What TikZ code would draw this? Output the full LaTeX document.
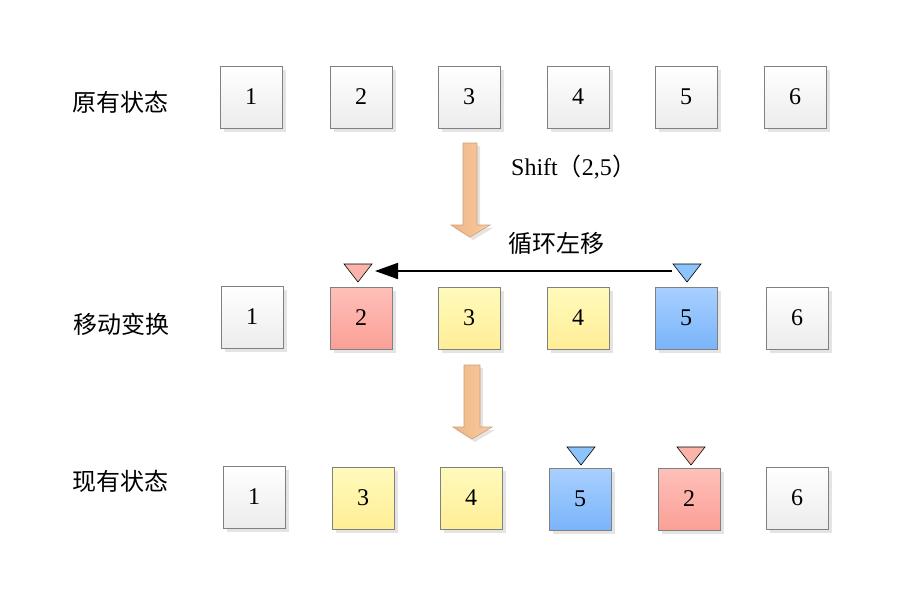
\documentclass[tikz,border=0pt]{standalone}
\usepackage{fontspec}
\setmainfont{Liberation Serif}
\newfontfamily\cjk{Noto Sans CJK SC}
\usetikzlibrary{shadows,arrows.meta}
\definecolor{boxline}{RGB}{128,128,128}
\definecolor{whitebot}{RGB}{236,236,236}
\definecolor{redtop}{RGB}{255,192,186}
\definecolor{redbot}{RGB}{250,160,150}
\definecolor{yeltop}{RGB}{255,250,188}
\definecolor{yelbot}{RGB}{255,238,150}
\definecolor{bluetop}{RGB}{168,208,255}
\definecolor{bluebot}{RGB}{122,180,250}
\definecolor{redtri}{RGB}{250,180,170}
\definecolor{bluetri}{RGB}{140,195,250}
\definecolor{arrL}{RGB}{238,182,132}
\definecolor{arrR}{RGB}{250,202,162}
\definecolor{arrline}{RGB}{205,160,120}
\definecolor{shadowc}{RGB}{228,228,228}
\tikzset{
  cell/.style={minimum width=62pt, minimum height=62pt, inner sep=0pt,
    draw=boxline, line width=0.8pt, font=\fontsize{24}{26}\selectfont,
    drop shadow={shadow xshift=4pt, shadow yshift=-4pt, fill=shadowc, opacity=1}},
  plaincell/.style={cell, top color=white, bottom color=whitebot},
  redcell/.style={cell, top color=redtop, bottom color=redbot},
  yelcell/.style={cell, top color=yeltop, bottom color=yelbot},
  bluecell/.style={cell, top color=bluetop, bottom color=bluebot},
  rowlabel/.style={font=\cjk\fontsize{24}{26}\selectfont},
  tri/.style={draw=black, line width=0.6pt},
  blockarrow/.style={draw=arrline, line width=0.6pt, left color=arrL, right color=arrR},
  blockshadow/.style={fill=shadowc},
}
\begin{document}
\begin{tikzpicture}[x=1pt,y=-1pt]
\useasboundingbox (0,0) rectangle (899,602);
% row labels
\node[rowlabel] (l1) at (120,102) {原有状态};
\node[rowlabel] (l2) at (121,324) {移动变换};
\node[rowlabel] (l3) at (120,481) {现有状态};
% row 1
\node[plaincell] (a1) at (251,97) {1};
\node[plaincell] (a2) at (361,97) {2};
\node[plaincell] (a3) at (469,97) {3};
\node[plaincell] (a4) at (578,97) {4};
\node[plaincell] (a5) at (686,97) {5};
\node[plaincell] (a6) at (795,97) {6};
% row 2
\node[plaincell] (b1) at (252,317) {1};
\node[redcell]   (b2) at (361,318) {2};
\node[yelcell]   (b3) at (469,318) {3};
\node[yelcell]   (b4) at (578,318) {4};
\node[bluecell]  (b5) at (686,318) {5};
\node[plaincell] (b6) at (797,318) {6};
% row 3
\node[plaincell] (c1) at (254,497) {1};
\node[yelcell]   (c2) at (363,498) {3};
\node[yelcell]   (c3) at (471,498) {4};
\node[bluecell]  (c4) at (580,499) {5};
\node[redcell]   (c5) at (689,499) {2};
\node[plaincell] (c6) at (797,498) {6};
% block arrows
\begin{scope}[shift={(3,3)}]
\path[blockshadow] (463,143) -- (477,143) -- (477,225) -- (490,225) -- (470,237) -- (451,225) -- (463,225) -- cycle;
\path[blockshadow] (464,365) -- (480,365) -- (480,427) -- (492,427) -- (472,439) -- (453,427) -- (464,427) -- cycle;
\end{scope}
\path[blockarrow] (463,143) -- (477,143) -- (477,225) -- (490,225) -- (470,237) -- (451,225) -- (463,225) -- cycle;
\path[blockarrow] (464,365) -- (480,365) -- (480,427) -- (492,427) -- (472,439) -- (453,427) -- (464,427) -- cycle;
% labels
\node[font=\fontsize{24}{26}\selectfont, anchor=west, inner sep=0pt] (shift) at (511,167) {Shift{\cjk（}2,5{\cjk\kern1pt）}};
\node[font=\cjk\fontsize{24}{26}\selectfont] (rot) at (556,243) {循环左移};
% triangles row 2
\path[tri, fill=redtri] (344,264) -- (372,264) -- (358,282) -- cycle;
\path[tri, fill=bluetri] (673,264) -- (701,264) -- (687,282) -- cycle;
\coordinate (tR) at (375,271);
\coordinate (tB) at (672,271);
\draw[line width=1.8pt, -{Triangle[length=23pt,width=16pt]}] (tB) -- (tR);
% triangles row 3
\path[tri, fill=bluetri] (567,447) -- (595,447) -- (581,465) -- cycle;
\path[tri, fill=redtri] (677,447) -- (705,447) -- (691,465) -- cycle;
\end{tikzpicture}
\end{document}
